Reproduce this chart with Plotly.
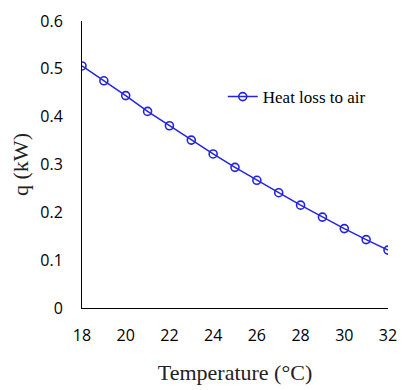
import plotly.graph_objects as go

temperature = [18, 19, 20, 21, 22, 23, 24, 25, 26, 27, 28, 29, 30, 31, 32]
heat_loss = [0.506, 0.475, 0.444, 0.411, 0.381, 0.351, 0.322, 0.294, 0.267, 0.241, 0.215, 0.190, 0.166, 0.143, 0.121]
x_ticks = [18, 20, 22, 24, 26, 28, 30, 32]
y_ticks = [0, 0.1, 0.2, 0.3, 0.4, 0.5, 0.6]
y_tick_text = ["0", "0.1", "0.2", "0.3", "0.4", "0.5", "0.6"]

blue = "#2424e0"

fig = go.Figure()
fig.add_trace(go.Scatter(
    x=temperature, y=heat_loss, mode="lines+markers", name="Heat loss to air",
    line=dict(color=blue, width=1.5),
    marker=dict(symbol="circle-open", size=8, color=blue, line=dict(width=1.6, color=blue)),
))

fig.update_layout(
    width=410, height=382,
    margin=dict(l=74, r=30, t=13, b=82),
    paper_bgcolor="white", plot_bgcolor="white",
    showlegend=True,
    legend=dict(x=0.46, y=0.735, xanchor="left", yanchor="middle",
                font=dict(family="Liberation Serif", size=17, color="black"),
                bgcolor="rgba(0,0,0,0)", itemwidth=30),
    xaxis=dict(range=[18, 32], tickvals=x_ticks, showgrid=False, zeroline=False,
               showline=True, linecolor="black", linewidth=1, ticks="",
               automargin=False, ticklabelstandoff=13,
               tickfont=dict(family="Open Sans", size=16, color="black"),
               title=dict(text="Temperature (°C)", standoff=19,
                          font=dict(family="Liberation Serif", size=22, color="#222"))),
    yaxis=dict(range=[0, 0.6], tickvals=y_ticks, ticktext=y_tick_text, showgrid=False, zeroline=False,
               showline=True, linecolor="black", linewidth=1, ticks="",
               automargin=False, ticklabelstandoff=15,
               tickfont=dict(family="Open Sans", size=16, color="black"),
               title=dict(text="q (kW)", standoff=11,
                          font=dict(family="Liberation Serif", size=22, color="#222"))),
)

fig.write_html("out.html")
